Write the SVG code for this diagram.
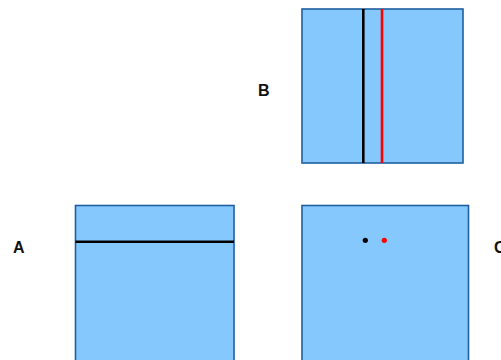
<svg xmlns="http://www.w3.org/2000/svg" width="501" height="360" viewBox="0 0 501 360">
<style>
.box{fill:#85c8fe;stroke:#1f5f9e;stroke-width:1.6}
.lbl{font-family:"Liberation Sans",Arial,sans-serif;font-weight:bold;font-size:16px;fill:#111}
</style>
<rect width="501" height="360" fill="#fff"/>
<g id="B">
<rect class="box" x="302" y="9" width="161" height="154"/>
<line x1="363.3" y1="9" x2="363.3" y2="163" stroke="#000" stroke-width="2.6"/>
<line x1="382" y1="9" x2="382" y2="163" stroke="#f00" stroke-width="2.6"/>
<text class="lbl" x="258" y="96">B</text>
</g>
<g id="A">
<rect class="box" x="75.5" y="205.5" width="158.5" height="170"/>
<line x1="75.5" y1="241.7" x2="234" y2="241.7" stroke="#000" stroke-width="2.6"/>
<text class="lbl" x="13" y="253">A</text>
</g>
<g id="C">
<rect class="box" x="302" y="205.5" width="166.5" height="170"/>
<circle cx="365.3" cy="240.3" r="2.6" fill="#000"/>
<circle cx="384.3" cy="240.3" r="2.6" fill="#f00"/>
<text class="lbl" x="494" y="253">C</text>
</g>
<g id="connectors"/>
</svg>
